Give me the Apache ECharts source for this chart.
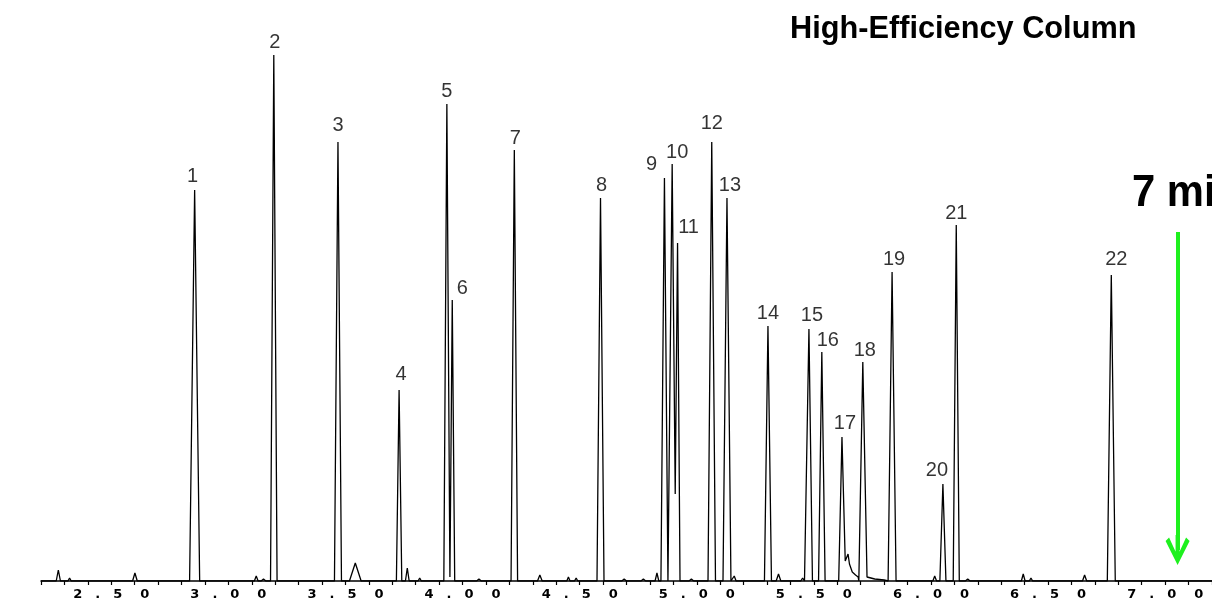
<!DOCTYPE html>
<html>
<head>
<meta charset="utf-8">
<script src="https://cdn.jsdelivr.net/npm/echarts@6/dist/echarts.min.js"></script>
<style>
  html, body { margin: 0; padding: 0; background: #fff; }
  #chart { width: 1212px; height: 610px; }
</style>
</head>
<body>
<div id="chart"></div>
<script>
// main peaks: name, retention time (min), height (detector units), base width (min)
const peakNames = ['1', '2', '3', '4', '5', '6', '7', '8', '9', '10', '11',
  '12', '13', '14', '15', '16', '17', '18', '19', '20', '21', '22'];
const peakTimes = [2.856, 3.194, 3.468, 3.729, 3.933, 3.956, 4.221, 4.589, 4.862, 4.895, 4.918,
  5.064, 5.129, 5.304, 5.479, 5.534, 5.620, 5.709, 5.834, 6.051, 6.108, 6.770];
const peakHeights = [391, 526, 439, 191, 477, 281, 431, 383, 403, 417, 338,
  439, 383, 255, 252, 229, 144, 219, 309, 97, 356, 306];
const peakWidths = [0.043, 0.028, 0.030, 0.023, 0.026, 0.021, 0.028, 0.030, 0.030, 0.021, 0.021,
  0.032, 0.034, 0.030, 0.030, 0.028, 0.028, 0.034, 0.034, 0.026, 0.026, 0.034];

// unresolved valleys / tails following a peak (index into the peak arrays)
const valleyAfter = [4, 9, 16, 17];
const valleyJoin = [true, true, false, false];
const valleyPoints = [
  [[3.946, 4]],
  [[4.908, 87]],
  [[5.634, 20], [5.646, 27], [5.652, 17], [5.664, 9], [5.678, 6], [5.689, 4]],
  [[5.727, 4], [5.760, 2], [5.800, 1]]
];

// small impurity bumps on the baseline
const minorTimes = [2.274, 2.322, 2.601, 3.119, 3.150, 3.542, 3.764, 3.817, 3.862, 4.070, 4.330, 4.380, 4.452,
  4.485, 4.690, 4.772, 4.830, 4.977, 5.160, 5.349, 5.452, 6.016, 6.157, 6.394, 6.427, 6.656];
const minorHeights = [11, 3, 8, 5, 2, 18, 13, 3, 2, 2, 6, 2, 4, 3, 2, 2, 8, 2, 5, 7, 3, 5, 2, 7, 3, 6];
const minorWidths = [0.018, 0.014, 0.020, 0.016, 0.020, 0.050, 0.016, 0.014, 0.014, 0.020, 0.020, 0.014, 0.014,
  0.014, 0.020, 0.020, 0.016, 0.020, 0.016, 0.020, 0.016, 0.016, 0.020, 0.016, 0.014, 0.018];

const tickLabels = ['2.50', '3.00', '3.50', '4.00', '4.50', '5.00', '5.50', '6.00', '6.50', '7.00'];
const runStart = 2.2;
const runEnd = 7.2;
const arrowTime = 7.053;

// label nudges (px) so numbers sit where the original put them
const labelDx = [-2, 1, 0, 2, 0, 10, 1, 1, -13, 5, 11, 0, 3, 0, 3, 6, 3, 2, 2, -6, 0, 5];
const labelDy = [-14, -13, -17, -16, -13, -12, -12, -13, -14, -12, -16, -19, -13, -13, -14, -12, -14, -12, -13, -14, -12, -16];

function buildTrace() {
  let pts = [[runStart, 0], [runEnd, 0]];
  for (let i = 0; i < minorTimes.length; i++) {
    let t = minorTimes[i], w = minorWidths[i] / 2;
    pts.push([t - w, 0], [t, minorHeights[i]], [t + w, 0]);
  }
  for (let i = 0; i < peakTimes.length; i++) {
    let t = peakTimes[i], w = peakWidths[i] / 2;
    let prev = valleyAfter.indexOf(i - 1);
    if (!(prev >= 0 && valleyJoin[prev])) pts.push([t - w, 0]);
    pts.push([t, peakHeights[i]]);
    let next = valleyAfter.indexOf(i);
    if (next >= 0) {
      valleyPoints[next].forEach(p => pts.push(p));
    } else {
      pts.push([t + w, 0]);
    }
  }
  pts.sort((a, b) => a[0] - b[0]);
  return pts;
}

function tickFormatter(v) {
  let s = v.toFixed(2);
  if (tickLabels.indexOf(s) < 0) return '';
  return s.split('').map(c => c === '.' ? '{p|.}' : '{d|' + c + '}').join('');
}

const chart = echarts.init(document.getElementById('chart'));

const labelData = peakTimes.map((t, i) => ({
  value: [t, peakHeights[i]],
  name: peakNames[i],
  label: { offset: [labelDx[i], labelDy[i]] }
}));

const option = {
  backgroundColor: '#fff',
  animation: false,
  grid: { left: 41, right: 0, top: 41, bottom: 29, outerBoundsMode: 'none', containLabel: false },
  xAxis: {
    type: 'value',
    min: runStart,
    max: runEnd,
    interval: 0.1,
    splitLine: { show: false },
    axisLine: { lineStyle: { color: '#000', width: 1.5 } },
    axisTick: { length: 4, lineStyle: { color: '#000', width: 1.2 } },
    axisLabel: {
      margin: 7,
      formatter: tickFormatter,
      rich: {
        d: { width: 27, align: 'center', fontSize: 13, fontWeight: 'bold', fontFamily: 'DejaVu Sans', color: '#000' },
        p: { width: 13, align: 'center', fontSize: 13, fontWeight: 'bold', fontFamily: 'DejaVu Sans', color: '#000' }
      }
    }
  },
  yAxis: { type: 'value', min: 0, max: 540, show: false },
  series: [
    {
      type: 'line',
      data: buildTrace(),
      showSymbol: false,
      lineStyle: { color: '#000', width: 1.3 },
      markLine: {
        silent: true,
        animation: false,
        label: { show: false },
        lineStyle: { color: '#1ef01e', width: 4, type: 'solid' },
        data: [[
          { coord: [arrowTime, 349], symbol: 'none' },
          {
            coord: [arrowTime, 31],
            symbol: 'path://M12,0 L24,24 L20.5,27.5 L12,9 L3.5,27.5 L0,24 Z M10,4 L14,4 L14,30 L10,30 Z',
            symbolSize: [24, 30]
          }
        ]]
      }
    },
    {
      type: 'scatter',
      data: labelData,
      symbolSize: 1,
      itemStyle: { color: 'rgba(0,0,0,0)' },
      label: {
        show: true,
        position: 'inside',
        formatter: p => p.name,
        fontFamily: 'Liberation Sans, Arial, sans-serif',
        fontSize: 20,
        color: '#000',
        textBorderWidth: 0
      }
    }
  ],
  graphic: [
    {
      type: 'text',
      x: 790, y: 13,
      scaleX: 0.96,
      style: {
        text: 'High-Efficiency Column',
        font: 'bold 32px "Liberation Sans"',
        fill: '#000',
        textVerticalAlign: 'top',
        verticalAlign: 'top'
      }
    },
    {
      type: 'text',
      x: 1132, y: 172,
      scaleX: 0.95,
      style: {
        text: '7 min',
        font: 'bold 44px "Liberation Sans"',
        fill: '#000',
        textVerticalAlign: 'top',
        verticalAlign: 'top'
      }
    }
  ]
};

chart.setOption(option);
</script>
</body>
</html>
